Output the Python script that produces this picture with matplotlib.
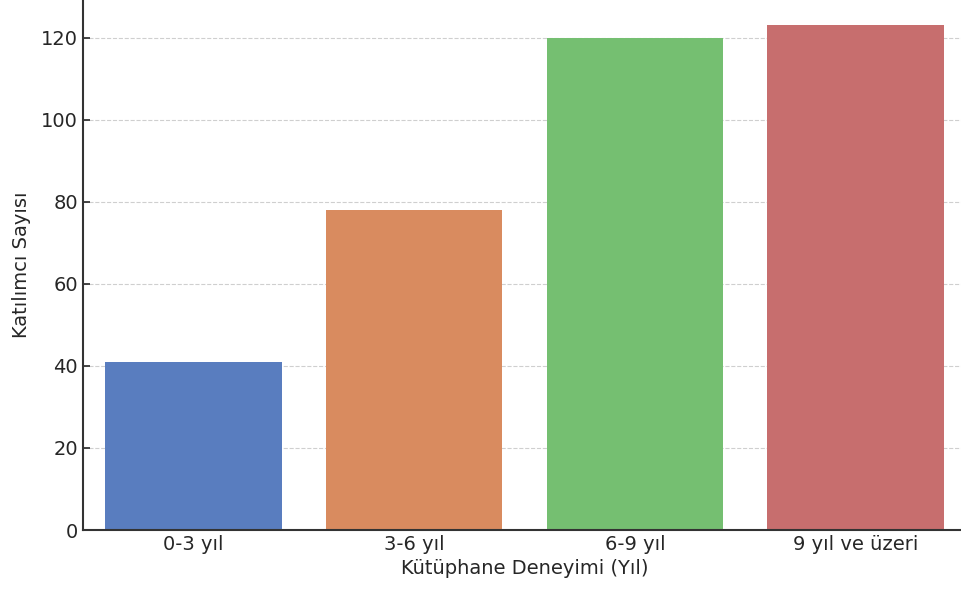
import matplotlib
matplotlib.use("Agg")
import matplotlib.pyplot as plt
import seaborn as sns
import pandas as pd

categories = ["0-3 yıl", "3-6 yıl", "6-9 yıl", "9 yıl ve üzeri"]
counts = [41, 78, 120, 123]

df = pd.DataFrame({"Deneyim": categories, "Sayi": counts})

plt.rcParams["font.family"] = ["DejaVu Sans"]
fig = plt.figure(figsize=(9.62, 5.92), dpi=100)
ax = fig.add_axes([0.0863, 0.1047, 0.9179, 0.8953])

sns.barplot(data=df, x="Deneyim", y="Sayi", hue="Deneyim", palette="muted",
            legend=False, ax=ax)

ax.set_ylim(0, max(counts) * 1.05)
ax.set_xlabel("Kütüphane Deneyimi (Yıl)", fontsize=14, color="#262626")
ax.set_ylabel("Katılımcı Sayısı", fontsize=14, color="#262626", labelpad=7)
ax.tick_params(axis="both", direction="in", labelsize=14, colors="#262626",
               length=5, width=1.2)
ax.yaxis.grid(True, linestyle="--", color="#cfcfcf", linewidth=0.8)
ax.set_axisbelow(True)
for s in ["top", "right"]:
    ax.spines[s].set_visible(False)
for s in ["left", "bottom"]:
    ax.spines[s].set_color("#333333")
    ax.spines[s].set_linewidth(1.5)

fig.savefig("out.png", dpi=100)
